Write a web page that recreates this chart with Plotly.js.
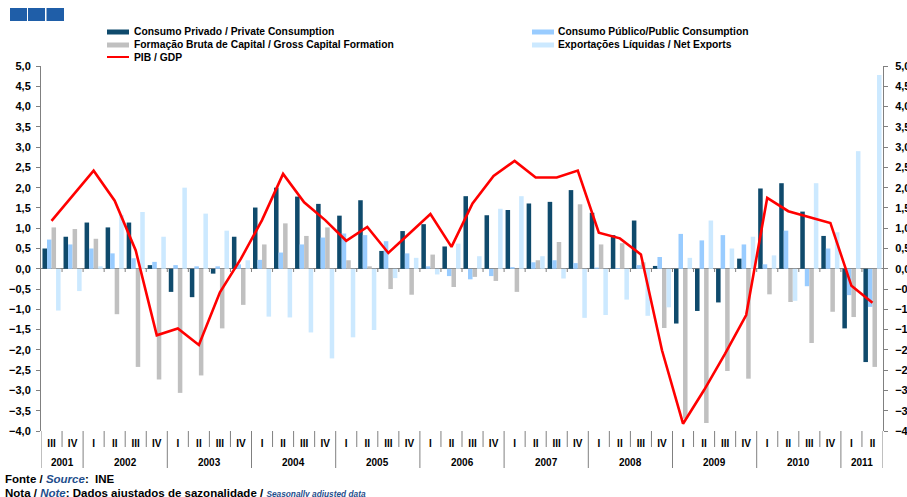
<!DOCTYPE html>
<html>
<head>
<meta charset="utf-8">
<script src="https://cdn.plot.ly/plotly-3.0.1.min.js"></script>
<style>html,body{margin:0;padding:0;background:#fff;}#chart{width:907px;height:497px;}</style>
</head>
<body>
<div id="chart"></div>
<script>
// ---- Data (quarterly contributions to GDP growth, y-o-y, p.p.) ----
const yearLabels = ['2001','2001',
  '2002','2002','2002','2002','2003','2003','2003','2003','2004','2004','2004','2004',
  '2005','2005','2005','2005','2006','2006','2006','2006','2007','2007','2007','2007',
  '2008','2008','2008','2008','2009','2009','2009','2009','2010','2010','2010','2010',
  '2011','2011'];
const quarterLabels = ['III','IV',
  'I','II','III','IV','I','II','III','IV','I','II','III','IV',
  'I','II','III','IV','I','II','III','IV','I','II','III','IV',
  'I','II','III','IV','I','II','III','IV','I','II','III','IV',
  'I','II'];

const privateConsumption = [0.50,0.79,1.14,1.02,1.14,0.09,-0.57,-0.70,-0.12,0.79,
  1.51,2.00,1.78,1.60,1.31,1.69,0.44,0.93,1.10,0.55,
  1.79,1.32,1.45,1.61,1.65,1.94,1.38,0.83,1.19,0.07,
  -1.35,-1.04,-0.83,0.25,1.98,2.11,1.41,0.81,-1.47,-2.30];
const publicConsumption = [0.72,0.60,0.50,0.38,0.26,0.17,0.09,0.06,0.06,0.11,
  0.22,0.40,0.60,0.77,0.87,0.83,0.68,0.38,0.06,-0.18,
  -0.26,-0.18,0.04,0.16,0.21,0.14,0.03,0.02,0.09,0.29,
  0.86,0.70,0.83,0.60,0.11,0.94,-0.43,0.50,-0.65,-0.94];
const grossCapitalFormation = [1.02,0.98,0.74,-1.12,-2.42,-2.73,-3.06,-2.63,-1.47,-0.89,
  0.60,1.12,0.81,1.02,0.21,0.06,-0.50,-0.64,0.35,-0.45,
  -0.20,-0.30,-0.57,0.21,0.66,1.59,0.60,0.63,0.16,-1.46,
  -3.70,-3.80,-2.52,-2.71,-0.63,-0.82,-1.83,-1.06,-1.19,-2.42];
const netExports = [-1.03,-0.55,0.06,1.33,1.40,0.79,2.00,1.36,0.94,0.21,
  -1.18,-1.20,-1.57,-2.21,-1.69,-1.51,-0.23,0.27,-0.14,0.62,
  0.31,1.48,1.79,0.31,-0.24,-1.21,-1.14,-0.76,-1.16,-0.95,
  0.27,1.19,0.50,0.79,0.33,-0.79,2.11,0.90,2.90,4.78];
const gdp = [1.18,1.79,2.42,1.68,0.45,-1.64,-1.47,-1.88,-0.58,0.25,
  1.20,2.34,1.64,1.20,0.69,1.03,0.39,0.87,1.35,0.54,
  1.61,2.29,2.66,2.25,2.25,2.42,0.89,0.75,0.35,-2.01,
  -3.82,-2.99,-2.09,-1.14,1.75,1.42,1.28,1.13,-0.42,-0.84];

const seriesNames = ['Consumo Privado / Private Consumption',
  'Consumo Público/Public Consumption',
  'Formação Bruta de Capital / Gross Capital Formation',
  'Exportações Líquidas / Net Exports',
  'PIB / GDP'];
const seriesColors = ['#0F4A6C','#99CCFF','#C0C0C0','#CCE9FF','#FF0000'];

// ---- Geometry helpers (pixel -> paper) ----
const W = 907, H = 497, ML = 41, MR = 24, MT = 66, MB = 66;
const PW = W - ML - MR, PH = H - MT - MB;
const pxX = p => (p - ML) / PW;
const pxY = p => (H - MB - p) / PH;

const FONT = 'Liberation Sans, Arial, Helvetica, sans-serif';
const idx = quarterLabels.map((_, i) => i);

const barSeries = [privateConsumption, publicConsumption, grossCapitalFormation, netExports];
const traces = barSeries.map((vals, i) => ({
  type: 'bar', x: idx, y: vals, name: seriesNames[i],
  marker: {color: seriesColors[i], line: {width: 0}},
  showlegend: false, hoverinfo: 'y'
}));
traces.push({
  type: 'scatter', mode: 'lines', x: idx, y: gdp, name: seriesNames[4],
  yaxis: 'y2', line: {color: seriesColors[4], width: 2.6}, showlegend: false
});

const shapes = [];
const annotations = [];

// ---- category separators / zero-line ticks ----
for (let i = 0; i <= quarterLabels.length; i++) {
  const b = i - 0.5;
  const yearStart = (i === 0 || i === quarterLabels.length || yearLabels[i] !== yearLabels[i - 1]);
  shapes.push({type: 'line', xref: 'x', yref: 'paper', x0: b, x1: b,
    y0: pxY(431), y1: pxY(yearStart ? 468 : 447), line: {color: '#808080', width: 1}});
  if (i > 0 && i < quarterLabels.length) {
    shapes.push({type: 'line', xref: 'x', yref: 'paper', x0: b, x1: b,
      y0: pxY(268.7), y1: pxY(272), line: {color: '#808080', width: 1}});
  }
}
// year labels centred under their quarters
const years = [...new Set(yearLabels)];
years.forEach(y => {
  const pos = idx.filter(i => yearLabels[i] === y);
  const mid = (pos[0] + pos[pos.length - 1]) / 2;
  annotations.push({xref: 'x', yref: 'paper', x: mid, y: pxY(462), xanchor: 'center', yanchor: 'middle',
    showarrow: false, text: y, font: {family: FONT, size: 10, color: '#000', weight: 'bold'}});
});

// ---- custom legend (swatches + labels) ----
const legendPos = [
  {sx: 107, tx: 132, y: 32},
  {sx: 532, tx: 556, y: 32},
  {sx: 107, tx: 132, y: 45},
  {sx: 532, tx: 556, y: 45},
  {sx: 107, tx: 132, y: 57}
];
legendPos.forEach((p, i) => {
  if (i < 4) {
    shapes.push({type: 'rect', xref: 'paper', yref: 'paper',
      x0: pxX(p.sx), x1: pxX(p.sx + 22), y0: pxY(p.y + 2.5), y1: pxY(p.y - 2.5),
      fillcolor: seriesColors[i], line: {width: 0}});
  } else {
    shapes.push({type: 'line', xref: 'paper', yref: 'paper',
      x0: pxX(p.sx), x1: pxX(p.sx + 22), y0: pxY(p.y), y1: pxY(p.y),
      line: {color: seriesColors[i], width: 2}});
  }
  annotations.push({xref: 'paper', yref: 'paper', x: pxX(p.tx), y: pxY(p.y),
    xanchor: 'left', yanchor: 'middle', showarrow: false, text: seriesNames[i],
    font: {family: FONT, size: 10.3, color: '#000', weight: 'bold'}});
});

// logo blocks
[[10, 27], [28, 45], [46.5, 64]].forEach(b => {
  shapes.push({type: 'rect', xref: 'paper', yref: 'paper',
    x0: pxX(b[0]), x1: pxX(b[1]), y0: pxY(21), y1: pxY(8),
    fillcolor: '#1F5EA8', line: {width: 0}});
});

// footer
annotations.push({xref: 'paper', yref: 'paper', x: pxX(3), y: pxY(479), xanchor: 'left', yanchor: 'middle',
  showarrow: false, font: {family: FONT, size: 11.5, color: '#000', weight: 'bold'},
  text: 'Fonte / <i><span style="color:#1F4E8C">Source</span></i>:  INE'});
annotations.push({xref: 'paper', yref: 'paper', x: pxX(3), y: pxY(493), xanchor: 'left', yanchor: 'middle',
  showarrow: false, font: {family: FONT, size: 11.5, color: '#000', weight: 'bold'},
  text: 'Nota / <i><span style="color:#1F4E8C">Note</span></i>: Dados ajustados de sazonalidade / <i><span style="color:#1F4E8C;font-size:8.3px">Seasonally adjusted data</span></i>'});

const yAxisCommon = {
  range: [-4, 5], dtick: 0.5, tick0: 0, tickformat: '.1f',
  ticks: 'outside', ticklen: 4, tickcolor: '#808080', tickwidth: 1,
  showline: true, linecolor: '#808080', linewidth: 1,
  showgrid: false, fixedrange: true,
  tickfont: {family: FONT, size: 11, color: '#000', weight: 'bold'}
};

const layout = {
  width: W, height: H,
  margin: {l: ML, r: MR, t: MT, b: MB, pad: 0},
  paper_bgcolor: '#fff', plot_bgcolor: '#fff',
  separators: ',.',
  barmode: 'group', bargap: 0.14, bargroupgap: 0,
  showlegend: false,
  font: {family: FONT, size: 10, color: '#000'},
  xaxis: {
    type: 'linear', range: [-0.5, quarterLabels.length - 0.5],
    tickmode: 'array', tickvals: idx, ticktext: quarterLabels,
    ticks: '', showgrid: false, zeroline: false, showline: false,
    ticklabelstandoff: 5,
    tickfont: {family: FONT, size: 10, color: '#000', weight: 'bold'},
    fixedrange: true
  },
  yaxis: Object.assign({}, yAxisCommon, {zeroline: true, zerolinecolor: '#808080', zerolinewidth: 1, ticklabelstandoff: 3}),
  yaxis2: Object.assign({}, yAxisCommon, {overlaying: 'y', side: 'right', zeroline: false, ticklabelstandoff: 5}),
  shapes: shapes,
  annotations: annotations
};

Plotly.newPlot('chart', traces, layout, {displayModeBar: false, staticPlot: true});
</script>
</body>
</html>
